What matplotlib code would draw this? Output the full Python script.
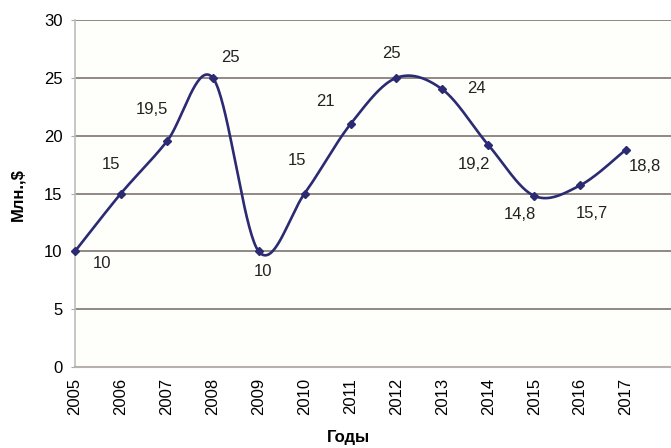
import numpy as np
import matplotlib.pyplot as plt

# ---------------- DATA ----------------
years = ["2005", "2006", "2007", "2008", "2009", "2010", "2011",
         "2012", "2013", "2014", "2015", "2016", "2017"]
values = [10, 15, 19.5, 25, 10, 15, 21, 25, 24, 19.2, 14.8, 15.7, 18.8]
labels = ["10", "15", "19,5", "25", "10", "15", "21",
          "25", "24", "19,2", "14,8", "15,7", "18,8"]
# label offsets from each point, in pixels (dx, dy)
label_offsets = [(27, -12), (-10, 29), (-15, 32), (18, 20), (4, -20), (-8, 33),
                 (-25, 23), (-5, 24), (34, 1), (-14, -20), (-14, -19),
                 (12, -28), (19, -17)]
# --------------------------------------

LINE = "#2b2a72"
GRID = "#7e7472"
FS = 12

plt.rcParams['font.family'] = ['Liberation Sans Narrow', 'Liberation Sans', 'DejaVu Sans']


def smooth_curve(x, y, n=40):
    # cubic bezier through points, control points like a Catmull-Rom spline
    x = np.asarray(x, float)
    y = np.asarray(y, float)
    px = np.concatenate([[x[0]], x, [x[-1]]])
    py = np.concatenate([[y[0]], y, [y[-1]]])
    xs, ys = [], []
    t = np.linspace(0, 1, n)
    for i in range(1, len(px) - 2):
        p0 = np.array([px[i], py[i]])
        p3 = np.array([px[i + 1], py[i + 1]])
        c1 = p0 + (np.array([px[i + 1], py[i + 1]]) - np.array([px[i - 1], py[i - 1]])) / 6
        c2 = p3 - (np.array([px[i + 2], py[i + 2]]) - np.array([px[i], py[i]])) / 6
        b = ((1 - t) ** 3)[:, None] * p0 + (3 * (1 - t) ** 2 * t)[:, None] * c1 \
            + (3 * (1 - t) * t ** 2)[:, None] * c2 + (t ** 3)[:, None] * p3
        xs.extend(b[:, 0])
        ys.extend(b[:, 1])
    return np.array(xs), np.array(ys)


fig = plt.figure(figsize=(6.71, 4.48), dpi=100)
ax = fig.add_axes([75 / 671, 81 / 448, 596 / 671, 347 / 448])
ax.set_facecolor("#fefefb")

xi = np.arange(len(years))
sx, sy = smooth_curve(xi, values)
ax.plot(sx, sy, color=LINE, lw=1.9, zorder=3, clip_on=False)
ax.plot(xi, values, ls="none", marker="D", ms=4, color=LINE, zorder=4, clip_on=False)

for x, v, lab, (dx, dy) in zip(xi, values, labels, label_offsets):
    ax.annotate(lab, (x, v), xytext=(dx, dy), textcoords="offset pixels",
                ha="center", va="center", fontsize=FS, color="#222222")

ax.set_xlim(0, 12.98)
ax.set_ylim(0, 30)
ax.set_yticks(range(0, 31, 5))
ax.set_xticks(xi)
ax.set_xticklabels(years, rotation=90, fontsize=FS)
ax.tick_params(axis="y", labelsize=FS, length=3, color="#aaaaaa", pad=6)
ax.tick_params(axis="x", length=0, pad=8)

ax.grid(axis="y", color=GRID, lw=1.2)
ax.set_axisbelow(True)
for s in ["top", "right"]:
    ax.spines[s].set_visible(False)
ax.spines["left"].set_color("#bdbdbd")
ax.spines["bottom"].set_color("#b8b0ae")
ax.spines["left"].set_linewidth(1.2)
ax.spines["bottom"].set_linewidth(1.5)

fig.text(18 / 671, 1 - 195 / 448, "Млн.,$", rotation=90, ha="center", va="center",
         fontsize=FS, fontweight="bold")
fig.text(348 / 671, 1 - 437 / 448, "Годы", ha="center", va="center",
         fontsize=FS, fontweight="bold")

fig.savefig("out.png", dpi=100)
